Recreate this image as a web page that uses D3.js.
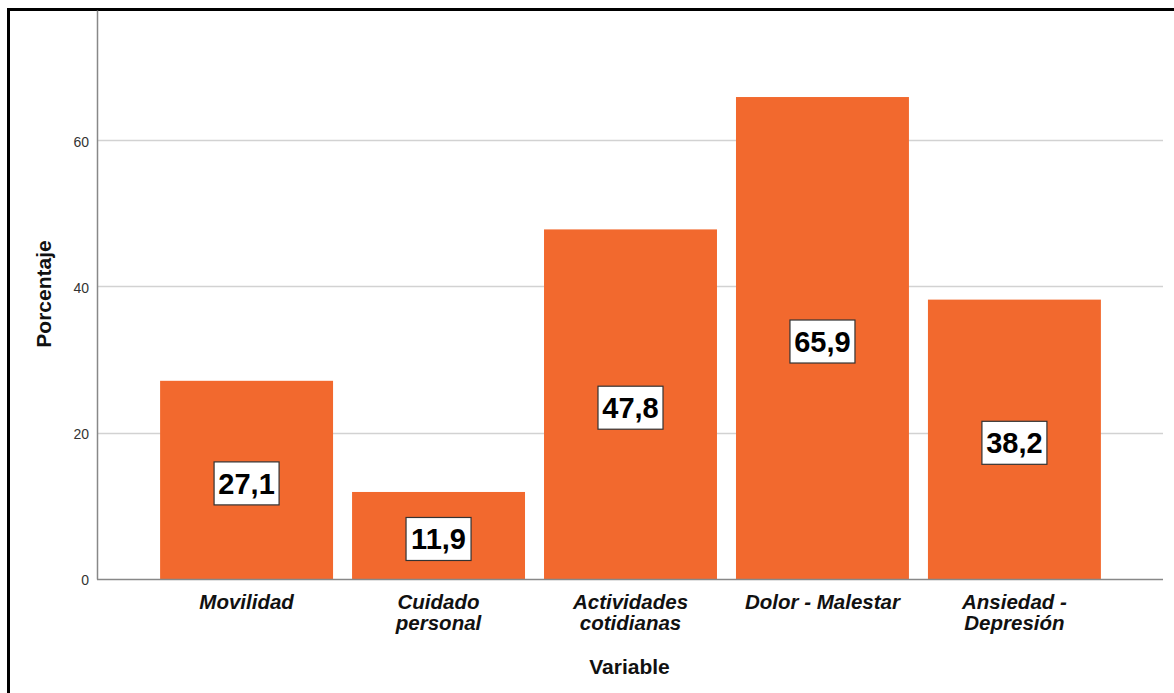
<!DOCTYPE html>
<html>
<head>
<meta charset="utf-8">
<script src="https://cdn.jsdelivr.net/npm/d3@7"></script>
<style>
  html, body { margin: 0; padding: 0; background: #fff; }
  svg { display: block; }
</style>
</head>
<body>
<svg id="chart" width="1174" height="693"></svg>
<script>
// Dimensiones de calidad de vida (EQ-5D) con problemas, en porcentaje
const categories = [
  ["Movilidad"],
  ["Cuidado", "personal"],
  ["Actividades", "cotidianas"],
  ["Dolor - Malestar"],
  ["Ansiedad -", "Depresión"]
];
const values = [27.1, 11.9, 47.8, 65.9, 38.2];
const valueLabels = ["27,1", "11,9", "47,8", "65,9", "38,2"];
const yTicks = [0, 20, 40, 60];
const yTitle = "Porcentaje";
const xTitle = "Variable";

const FONT = "Liberation Sans, Arial, sans-serif";
const svg = d3.select("#chart");
const W = 1174, H = 693;
const plot = { left: 97, right: 1163, top: 10, bottom: 579 };

// Marco exterior
svg.append("path")
  .attr("d", `M8.5,${H} V9.5 H${W}`)
  .attr("fill", "none").attr("stroke", "#000").attr("stroke-width", 3);

const keys = categories.map((c, i) => i);
const x = d3.scaleBand().domain(keys)
  .range([150.5, 1110.5]).paddingInner(0.099).paddingOuter(0.05);
const y = d3.scaleLinear().domain([0, 77.8]).range([plot.bottom, plot.top]);

// Líneas de cuadrícula
svg.append("g").selectAll("line")
  .data(yTicks.filter(t => t > 0)).join("line")
  .attr("x1", plot.left).attr("x2", plot.right)
  .attr("y1", d => Math.round(y(d)) + 0.5).attr("y2", d => Math.round(y(d)) + 0.5)
  .attr("stroke", "#d2d2d2").attr("stroke-width", 1.5);

// Barras
svg.append("g").selectAll("rect")
  .data(values).join("rect")
  .attr("x", (d, i) => x(i))
  .attr("width", x.bandwidth())
  .attr("y", d => y(d))
  .attr("height", d => y(0) - y(d))
  .attr("fill", "#f2692e");

// Eje Y
const yAxis = svg.append("g")
  .attr("transform", `translate(${plot.left},0)`)
  .call(d3.axisLeft(y).tickValues(yTicks).tickSize(0).tickPadding(8).tickFormat(d3.format("d")));
yAxis.select(".domain").attr("stroke", "#888").attr("stroke-width", 1.5);
yAxis.selectAll("text")
  .attr("font-family", FONT)
  .attr("font-size", 14).attr("fill", "#333").attr("dy", "0.42em");

// Eje X
const xAxis = svg.append("g")
  .attr("transform", `translate(0,${plot.bottom})`)
  .call(d3.axisBottom(x).tickSize(0).tickFormat(""));
xAxis.select(".domain").attr("d", `M${plot.left},0.5H${plot.right}`)
  .attr("stroke", "#888").attr("stroke-width", 1.5);
xAxis.selectAll(".tick").each(function(d) {
  const t = d3.select(this).append("text")
    .attr("font-family", FONT)
    .attr("font-size", 20.5).attr("font-weight", "bold").attr("font-style", "italic")
    .attr("fill", "#111").attr("text-anchor", "middle");
  categories[d].forEach((line, j) => {
    t.append("tspan").attr("x", 0).attr("y", 29.5 + j * 21.5).text(line);
  });
});

// Etiquetas de valor
const lbl = svg.append("g").selectAll("g")
  .data(values).join("g")
  .attr("transform", (d, i) => `translate(${x(i) + x.bandwidth() / 2},${y(d / 2) + 3.5})`);
lbl.append("rect")
  .attr("x", -32.5).attr("y", -21.5).attr("width", 65).attr("height", 43)
  .attr("fill", "#fff").attr("stroke", "#333").attr("stroke-width", 1.2);
lbl.append("text")
  .attr("text-anchor", "middle").attr("dy", "0.36em")
  .attr("font-family", FONT)
  .attr("font-size", 29).attr("font-weight", "bold").attr("fill", "#000")
  .text((d, i) => valueLabels[i]);

// Títulos de ejes
svg.append("text")
  .attr("transform", `translate(51,294) rotate(-90)`)
  .attr("text-anchor", "middle")
  .attr("font-family", FONT)
  .attr("font-size", 21).attr("font-weight", "bold").attr("fill", "#111")
  .text(yTitle);
svg.append("text")
  .attr("x", 629.5).attr("y", 674)
  .attr("text-anchor", "middle")
  .attr("font-family", FONT)
  .attr("font-size", 21).attr("font-weight", "bold").attr("fill", "#111")
  .text(xTitle);
</script>
</body>
</html>
